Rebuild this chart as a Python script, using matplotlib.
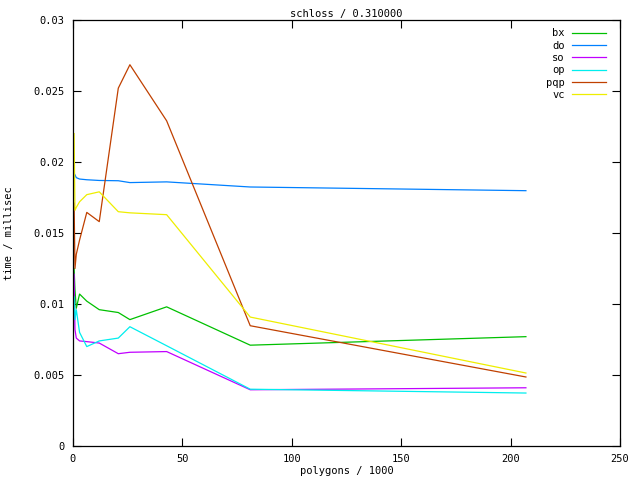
import matplotlib
matplotlib.use("Agg")
from matplotlib import pyplot as plt

# polygon counts (in thousands) shared by all series
polygons = [0.5, 0.9, 1.5, 3, 6.3, 12, 20.7, 26, 42.8, 81, 207]

bx = [0.0125, 0.0110, 0.0097, 0.0107, 0.0102, 0.0096, 0.0094, 0.0089, 0.0098, 0.0071, 0.0077]
do = [0.0192, 0.0191, 0.0189, 0.0188, 0.01875, 0.0187, 0.01868, 0.01855, 0.0186, 0.01824, 0.01798]
so = [0.0121, 0.0082, 0.0076, 0.0074, 0.00735, 0.00725, 0.0065, 0.0066, 0.00665, 0.00396, 0.0041]
op = [0.0105, 0.0089, 0.0096, 0.0080, 0.0070, 0.0074, 0.0076, 0.0084, 0.00706, 0.0040, 0.00373]
pqp = [0.0171, 0.0125, 0.0135, 0.0145, 0.01645, 0.0158, 0.0252, 0.02685, 0.0229, 0.00847, 0.00486]
vc = [0.0220, 0.0166, 0.0168, 0.0172, 0.0177, 0.0179, 0.0165, 0.01642, 0.01629, 0.00908, 0.00514]

series = [("bx", bx, "#00c000"), ("do", do, "#0080ff"), ("so", so, "#c000ff"),
          ("op", op, "#00eeee"), ("pqp", pqp, "#c04000"), ("vc", vc, "#eeee00")]

x_ticks = [0, 50, 100, 150, 200, 250]
y_ticks = [0, 0.005, 0.01, 0.015, 0.02, 0.025, 0.03]
y_labels = ["0", "0.005", "0.01", "0.015", "0.02", "0.025", "0.03"]

plt.rcParams['font.family'] = 'DejaVu Sans Mono'

fig = plt.figure(figsize=(6.4, 4.8), dpi=100)
ax = fig.add_axes([73/640, 1 - 446/480, 547/640, 426/480])

for name, vals, col in series:
    ax.plot(polygons, vals, color=col, lw=0.9, label=name)

ax.set_xlim(0, 250)
ax.set_ylim(0, 0.03)
ax.set_xticks(x_ticks)
ax.set_yticks(y_ticks)
ax.set_yticklabels(y_labels)
ax.tick_params(direction='in', length=6, width=0.8, labelsize=7.5,
               top=True, right=True, pad=6)
for s in ax.spines.values():
    s.set_linewidth(0.9)

ax.set_title("schloss / 0.310000", fontsize=7.5, pad=2)
ax.set_xlabel("polygons / 1000", fontsize=7.5, labelpad=1)
ax.set_ylabel("time / millisec", fontsize=7.5, labelpad=14)

ax.legend(loc='upper right', bbox_to_anchor=(1.0, 1.012), frameon=False,
          markerfirst=False, fontsize=7.5, handlelength=3.3, handletextpad=0.7,
          labelspacing=0.22, borderaxespad=0.9)

fig.savefig("out.png", dpi=100)
